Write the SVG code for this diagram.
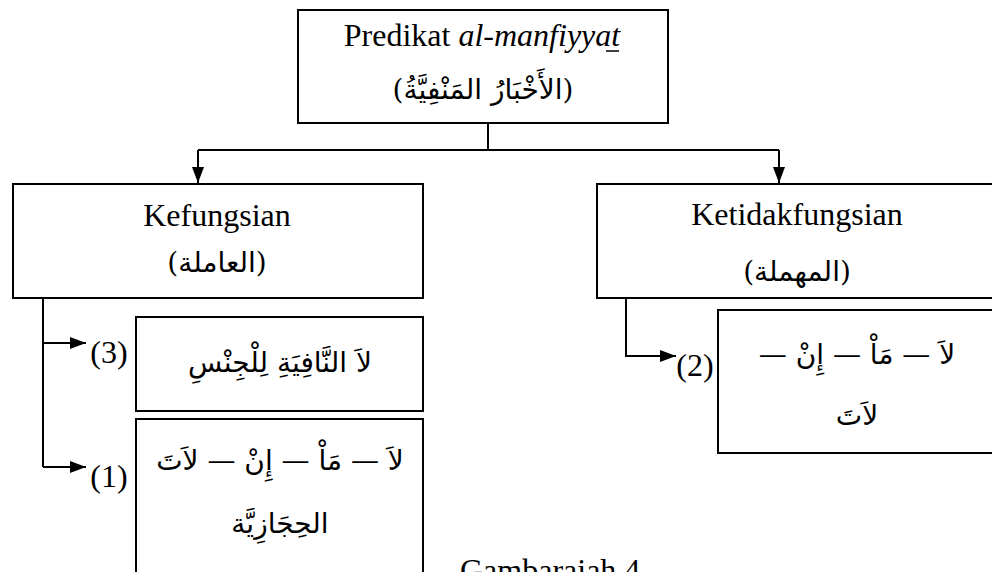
<svg xmlns="http://www.w3.org/2000/svg" width="992" height="572" viewBox="0 0 992 572">
<style>
.box{fill:#fff;stroke:#000;stroke-width:2}
.ln{fill:none;stroke:#000;stroke-width:2}
.lt{font-family:"Liberation Serif","Times New Roman",serif;font-size:32px;fill:#000}
.ar{font-family:"DejaVu Serif","DejaVu Sans","Noto Sans",serif;font-size:28px;fill:#000}
</style>
<defs>
<marker id="ah" markerWidth="16" markerHeight="12" refX="16" refY="6" orient="auto" markerUnits="userSpaceOnUse">
<path d="M0,0 L16,6 L0,12 z" fill="#000"/>
</marker>
</defs>
<rect width="992" height="572" fill="#fff"/>
<g id="connectors">
<path class="ln" d="M488,123 V150"/>
<path class="ln" d="M198,150 H779"/>
<path class="ln" d="M198,150 V183" marker-end="url(#ah)"/>
<path class="ln" d="M779,150 V183" marker-end="url(#ah)"/>
<path class="ln" d="M43,298 V467"/>
<path class="ln" d="M43,343 H86" marker-end="url(#ah)"/>
<path class="ln" d="M43,467 H86" marker-end="url(#ah)"/>
<path class="ln" d="M626,298 V356 H676" marker-end="url(#ah)"/>
</g>
<g id="root">
<rect class="box" x="298" y="10" width="370" height="113" stroke-width="2.5"/>
<text class="lt" x="482" y="46" text-anchor="middle">Predikat <tspan font-style="italic">al-manfiyyat</tspan></text>
<line x1="606" y1="51" x2="619" y2="51" stroke="#000" stroke-width="1.5"/>
<text class="ar" x="483" y="99" text-anchor="middle" direction="rtl">(الأَخْبَارُ المَنْفِيَّةُ)</text>
</g>
<g id="kefungsian">
<rect class="box" x="13" y="184" width="410" height="114"/>
<text class="lt" x="217" y="226" text-anchor="middle">Kefungsian</text>
<text class="ar" x="217" y="272" text-anchor="middle" direction="rtl">(العاملة)</text>
</g>
<g id="ketidakfungsian">
<rect class="box" x="597" y="184" width="400" height="114"/>
<text class="lt" x="797" y="225" text-anchor="middle">Ketidakfungsian</text>
<text class="ar" x="797" y="281" text-anchor="middle" direction="rtl">(المهملة)</text>
</g>
<g id="n3">
<text class="lt" x="109" y="363" text-anchor="middle">(3)</text>
<rect class="box" x="136" y="317" width="287" height="94"/>
<text class="ar" x="280" y="372" text-anchor="middle" direction="rtl">لاَ النَّافِيَةِ لِلْجِنْسِ</text>
</g>
<g id="n1">
<text class="lt" x="109" y="487" text-anchor="middle">(1)</text>
<rect class="box" x="136" y="419" width="287" height="165"/>
<text class="ar" x="280" y="470" text-anchor="middle" direction="rtl">لاَ — مَاْ — إِنْ — لاَتَ</text>
<text class="ar" x="280" y="533" text-anchor="middle" direction="rtl">الحِجَازِيَّة</text>
</g>
<g id="n2">
<text class="lt" x="695" y="376" text-anchor="middle">(2)</text>
<rect class="box" x="718" y="310" width="279" height="143"/>
<text class="ar" x="857" y="364" text-anchor="middle" direction="rtl">لاَ — مَاْ — إِنْ —</text>
<text class="ar" x="857" y="425" text-anchor="middle" direction="rtl">لاَتَ</text>
</g>
<g id="caption">
<text class="lt" x="460" y="581">Gambaraiah 4</text>
</g>
</svg>
